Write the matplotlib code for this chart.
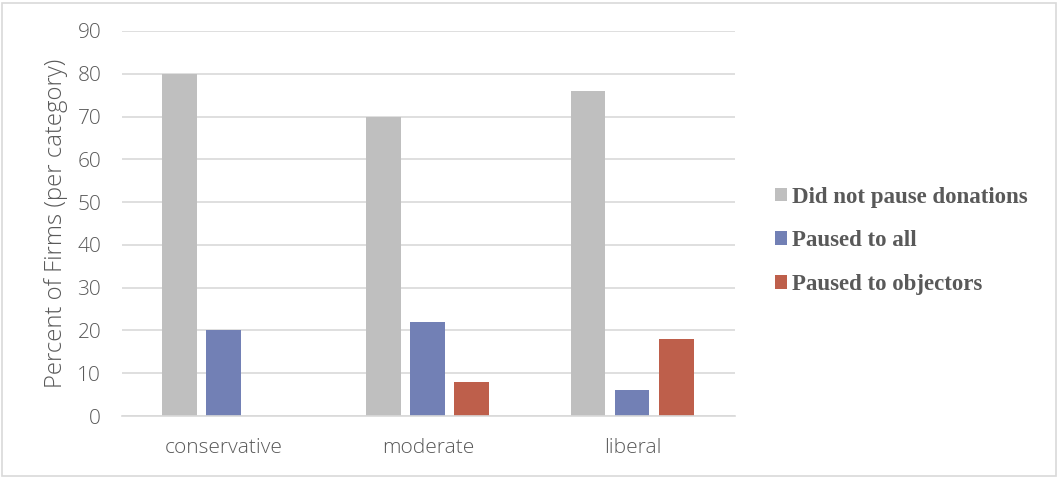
import matplotlib.pyplot as plt
import numpy as np
from matplotlib.patches import Rectangle

categories = ["conservative", "moderate", "liberal"]
series_names = ["Did not pause donations", "Paused to all", "Paused to objectors"]
did_not_pause = [80, 70, 76]
paused_all = [20, 22, 6]
paused_objectors = [0, 8, 18]
y_ticks = [0, 10, 20, 30, 40, 50, 60, 70, 80, 90]

colors = ["#BFBFBF", "#7280B5", "#BE5F4B"]
text_col = "#595959"

fig = plt.figure(figsize=(10.6, 4.78), dpi=100)
ax = fig.add_axes([122 / 1060, 1 - 416 / 478, (735 - 122) / 1060, (416 - 31) / 478])

x = np.arange(len(categories))
width = 0.17
step = 0.216
for i, (vals, name) in enumerate(zip([did_not_pause, paused_all, paused_objectors], series_names)):
    ax.bar(x + (i - 1) * step - 0.004, vals, width, color=colors[i], label=name, zorder=2)

ax.set_xlim(-0.5, 2.5)
ax.set_ylim(0, 90)
ax.set_yticks(y_ticks)
ax.set_xticks(x)
ax.set_xticklabels(categories)
ax.yaxis.grid(True, color="#D9D9D9", linewidth=1.2, zorder=0)
for s in ["top", "right", "left"]:
    ax.spines[s].set_visible(False)
ax.spines["bottom"].set_color("#D9D9D9")
ax.spines["bottom"].set_linewidth(1.2)
ax.tick_params(axis="both", length=0, labelsize=15, labelcolor=text_col)
ax.tick_params(axis="y", pad=15)
ax.tick_params(axis="x", pad=16)
for lab in ax.get_xticklabels() + ax.get_yticklabels():
    lab.set_family("Open Sans")
    lab.set_weight("light")
ax.set_ylabel("Percent of Firms (per category)", fontsize=17.2, color=text_col,
              family="Open Sans", weight="light", labelpad=7)

leg = fig.legend(loc="center left", bbox_to_anchor=(754 / 1060, 1 - 241 / 478), frameon=False,
                 prop={"family": "Liberation Serif", "weight": "bold", "size": 16.5},
                 handlelength=0.55, handleheight=0.55, handletextpad=0.22, labelspacing=1.0)
for t in leg.get_texts():
    t.set_color(text_col)

fig.add_artist(Rectangle((2 / 1060, 2 / 478), 1054 / 1060, 473 / 478, transform=fig.transFigure,
                         fill=False, edgecolor="#D9D9D9", linewidth=1.2))

fig.savefig("out.png", dpi=100)
